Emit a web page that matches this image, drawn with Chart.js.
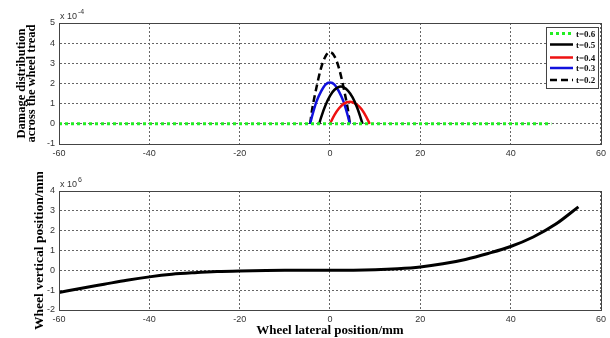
<!DOCTYPE html>
<html>
<head>
<meta charset="utf-8">
<script src="https://cdn.jsdelivr.net/npm/chart.js@4"></script>
<style>
body { margin: 0; background: #fff; }
#wrap { position: relative; width: 610px; height: 338px; }
canvas { position: absolute; left: 0; }
</style>
</head>
<body>
<div id="wrap">
<canvas id="damage-chart" width="610" height="172" style="top:0"></canvas>
<canvas id="wheel-chart" width="610" height="166" style="top:172px"></canvas>
</div>
<script>
// x ticks (mm)
const xTicks = [-60, -40, -20, 0, 20, 40, 60];

// damage curves, y in units of 1e-4
const t06X = [-60, 49];
const t06Y = [0, 0];
const t05X = [-2.4, -2, -1, 0, 1, 2.4, 4, 5, 6, 7, 7.2];
const t05Y = [0, 0.3, 0.92, 1.39, 1.69, 1.85, 1.64, 1.31, 0.81, 0.15, 0];
const t04X = [0, 1, 2, 3, 4.4, 6, 7, 8, 8.8];
const t04Y = [0, 0.44, 0.77, 0.99, 1.1, 0.95, 0.72, 0.36, 0];
const t03X = [-4.4, -4, -3, -2, -1, 0, 1, 2, 3, 4, 4.4];
const t03Y = [0, 0.35, 1.1, 1.6, 1.95, 2.05, 1.95, 1.6, 1.1, 0.35, 0];
const t02X = [-4.4, -4, -3, -2, -1, 0, 1, 2, 3, 4, 4.4];
const t02Y = [0, 0.65, 1.8, 2.75, 3.35, 3.55, 3.35, 2.75, 1.8, 0.65, 0];

// wheel vertical position, y in units of 1e6 (as labelled)
const wheelX = [-60, -55, -50, -45, -40, -35, -30, -25, -20, -10, 0, 10, 15, 20, 25, 30, 35, 40, 45, 50, 55];
const wheelY = [-1.12, -0.9, -0.7, -0.5, -0.33, -0.2, -0.12, -0.06, -0.03, 0, 0, 0.03, 0.08, 0.17, 0.33, 0.55, 0.85, 1.2, 1.68, 2.33, 3.2];

const pts = (xs, ys) => xs.map((x, i) => ({ x: x, y: ys[i] }));

const tickFont = { family: "'Liberation Sans', Arial", size: 9 };
const gridStyle = { color: "#666", lineWidth: 1, drawTicks: false };
const borderStyle = { display: true, color: "#444", dash: [2, 2] };
const serif = "'Liberation Serif', 'Times New Roman'";

// box round the plot + "x 10^n" label
function frameAndExp(base, exp) {
    return {
        id: 'frame',
        afterDraw(chart) {
            const a = chart.chartArea;
            const ctx = chart.ctx;
            ctx.save();
            ctx.strokeStyle = "#444";
            ctx.lineWidth = 1;
            ctx.setLineDash([]);
            ctx.strokeRect(Math.round(a.left) + 0.5, Math.round(a.top) + 0.5, Math.round(a.right - a.left), Math.round(a.bottom - a.top));
            ctx.fillStyle = "#333";
            ctx.font = "9px 'Liberation Sans', Arial";
            ctx.textBaseline = "alphabetic";
            ctx.fillText(base, a.left + 1, a.top - 4);
            const w = ctx.measureText(base).width;
            ctx.font = "7px 'Liberation Sans', Arial";
            ctx.fillText(exp, a.left + 2 + w, a.top - 9);
            ctx.restore();
        }
    };
}

// legend box inside the top right corner
const legendBox = {
    id: 'legendBox',
    afterDraw(chart) {
        const ctx = chart.ctx;
        const a = chart.chartArea;
        const x0 = a.right - 55, y0 = a.top + 4, w = 52, h = 61;
        ctx.save();
        ctx.fillStyle = "#fff";
        ctx.fillRect(x0, y0, w, h);
        ctx.strokeStyle = "#444";
        ctx.lineWidth = 1;
        ctx.strokeRect(x0 + 0.5, y0 + 0.5, w, h);
        const rows = [6.5, 17.5, 30.5, 41, 53];
        chart.data.datasets.forEach((ds, i) => {
            const y = y0 + rows[i];
            ctx.strokeStyle = ds.borderColor;
            ctx.lineWidth = ds.borderWidth;
            ctx.setLineDash(ds.borderDash || []);
            ctx.beginPath();
            ctx.moveTo(x0 + 4, y);
            ctx.lineTo(x0 + 27, y);
            ctx.stroke();
            ctx.setLineDash([]);
            ctx.fillStyle = "#111";
            ctx.font = "bold 9px " + serif;
            ctx.textBaseline = "middle";
            ctx.fillText(ds.label, x0 + 30, y + 1);
        });
        ctx.restore();
    }
};

const damageChart = new Chart(document.getElementById("damage-chart"), {
    type: 'line',
    data: {
        datasets: [
            { label: "t=0.6", data: pts(t06X, t06Y), borderColor: "#22ee22", borderWidth: 3, borderDash: [3, 3] },
            { label: "t=0.5", data: pts(t05X, t05Y), borderColor: "#000", borderWidth: 2.5 },
            { label: "t=0.4", data: pts(t04X, t04Y), borderColor: "#ee1111", borderWidth: 2.5 },
            { label: "t=0.3", data: pts(t03X, t03Y), borderColor: "#1111dd", borderWidth: 2.5 },
            { label: "t=0.2", data: pts(t02X, t02Y), borderColor: "#000", borderWidth: 2.5, borderDash: [7, 4] }
        ]
    },
    options: {
        responsive: false,
        animation: false,
        elements: { point: { radius: 0 }, line: { cubicInterpolationMode: 'monotone', fill: false } },
        layout: { padding: { left: 16, right: 9, top: 23, bottom: 0 } },
        scales: {
            x: {
                type: 'linear', min: -60, max: 60,
                afterBuildTicks: (s) => { s.ticks = xTicks.map(v => ({ value: v })); },
                afterFit: (s) => { s.height = 28; },
                grid: gridStyle, border: borderStyle,
                ticks: { font: tickFont, color: "#333", padding: 4, maxRotation: 0 }
            },
            y: {
                min: -1, max: 5,
                afterFit: (s) => { s.width = 43; },
                grid: gridStyle, border: borderStyle,
                ticks: { font: tickFont, color: "#333", padding: 4, stepSize: 1 },
                title: {
                    display: true,
                    text: ["Damage distribution", "across the wheel tread"],
                    font: { family: serif, size: 12.5, weight: 'bold', lineHeight: 0.85 },
                    color: "#000",
                    padding: 0
                }
            }
        },
        plugins: { legend: { display: false }, tooltip: { enabled: false } }
    },
    plugins: [frameAndExp("x 10", "-4"), legendBox]
});

const wheelChart = new Chart(document.getElementById("wheel-chart"), {
    type: 'line',
    data: {
        datasets: [{ label: "wheel", data: pts(wheelX, wheelY), borderColor: "#000", borderWidth: 3 }]
    },
    options: {
        responsive: false,
        animation: false,
        elements: { point: { radius: 0 }, line: { cubicInterpolationMode: 'monotone', fill: false } },
        layout: { padding: { left: 31, right: 9, top: 19, bottom: 0 } },
        scales: {
            x: {
                type: 'linear', min: -60, max: 60,
                afterBuildTicks: (s) => { s.ticks = xTicks.map(v => ({ value: v })); },
                afterFit: (s) => { s.height = 28; },
                grid: gridStyle, border: borderStyle,
                ticks: { font: tickFont, color: "#333", padding: 4, maxRotation: 0 },
                title: {
                    display: true,
                    text: "Wheel lateral position/mm",
                    font: { family: serif, size: 13, weight: 'bold' },
                    color: "#000",
                    padding: 0
                }
            },
            y: {
                min: -2, max: 4,
                afterFit: (s) => { s.width = 28; },
                grid: gridStyle, border: borderStyle,
                ticks: { font: tickFont, color: "#333", padding: 4, stepSize: 1 },
                title: {
                    display: true,
                    text: "Wheel vertical position/mm",
                    font: { family: serif, size: 13.5, weight: 'bold' },
                    color: "#000",
                    padding: 0
                }
            }
        },
        plugins: { legend: { display: false }, tooltip: { enabled: false } }
    },
    plugins: [frameAndExp("x 10", "6")]
});
</script>
</body>
</html>
